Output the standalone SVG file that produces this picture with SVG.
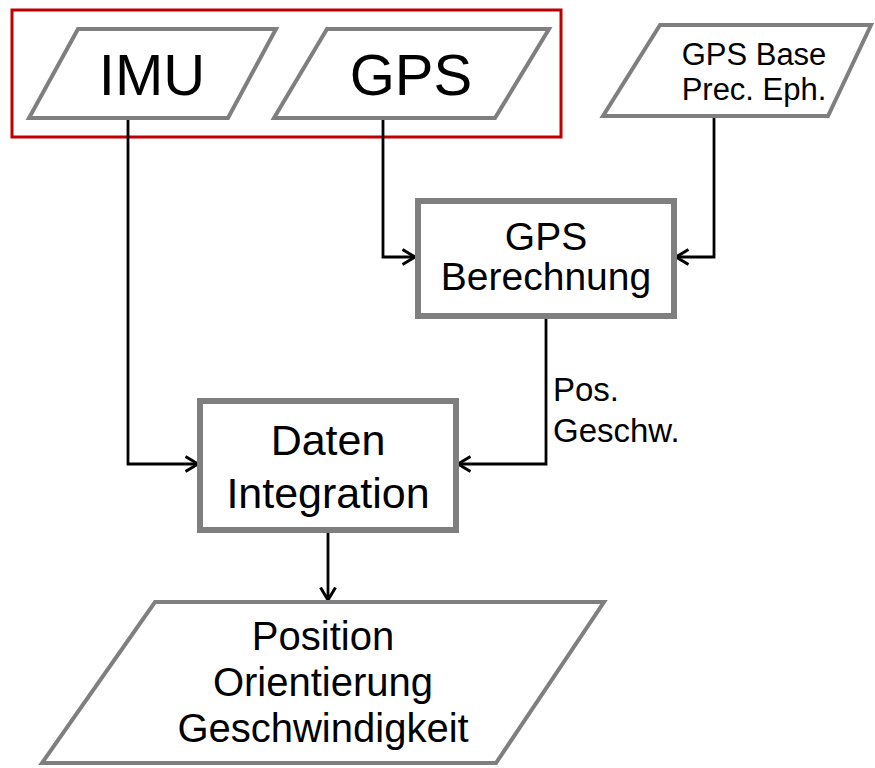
<svg xmlns="http://www.w3.org/2000/svg" width="875" height="768" viewBox="0 0 875 768">
  <style>
    .io { fill: #ffffff; stroke: #7f7f7f; stroke-width: 4; stroke-linejoin: miter; }
    .proc { fill: #ffffff; stroke: #7f7f7f; stroke-width: 6; }
    .wire { fill: none; stroke: #000000; stroke-width: 2.8; }
    text { font-family: "Liberation Sans", Arial, sans-serif; fill: #000000; text-anchor: middle; }
  </style>
  <defs>
    <marker id="arrow" markerWidth="16" markerHeight="18" refX="14" refY="9" orient="auto" markerUnits="userSpaceOnUse">
      <path d="M1.5,1.5 L14,9 L1.5,16.5" fill="none" stroke="#000000" stroke-width="3"/>
    </marker>
  </defs>
  <rect width="875" height="768" fill="#ffffff"/>

  <!-- sensor group frame -->
  <rect id="sensor-frame" x="12" y="10" width="549" height="127" fill="none" stroke="#c00000" stroke-width="3"/>

  <g id="connectors">
    <path class="wire" d="M128,118 V464 H198" marker-end="url(#arrow)"/>
    <path class="wire" d="M383,118 V257 H415" marker-end="url(#arrow)"/>
    <path class="wire" d="M714,117 V257 H676" marker-end="url(#arrow)"/>
    <path class="wire" d="M546,318 V464 H458" marker-end="url(#arrow)"/>
    <path class="wire" d="M328,532 V600" marker-end="url(#arrow)"/>
    <text x="553" y="401" font-size="33" style="text-anchor:start">Pos.</text>
    <text x="553" y="442" font-size="33" style="text-anchor:start">Geschw.</text>
  </g>

  <g id="imu">
    <polygon class="io" points="78,29 276,29 228,118 29,118"/>
    <text x="152" y="95" font-size="58">IMU</text>
  </g>

  <g id="gps">
    <polygon class="io" points="327,29 549,29 495,118 274,118"/>
    <text x="411" y="95" font-size="58">GPS</text>
  </g>

  <g id="gps-base">
    <polygon class="io" points="660,25 871,25 828,116 603,116"/>
    <text x="754" y="65" font-size="31">GPS Base</text>
    <text x="754" y="100" font-size="31">Prec. Eph.</text>
  </g>

  <g id="gps-berechnung">
    <rect class="proc" x="418" y="201" width="256" height="115"/>
    <text x="546" y="250" font-size="39">GPS</text>
    <text x="546" y="290" font-size="39">Berechnung</text>
  </g>

  <g id="daten-integration">
    <rect class="proc" x="200" y="401" width="256" height="129"/>
    <text x="328" y="455" font-size="43">Daten</text>
    <text x="328" y="508" font-size="43">Integration</text>
  </g>

  <g id="ausgabe">
    <polygon class="io" points="155,602 604,602 496,763 42,763"/>
    <text x="323" y="650" font-size="40">Position</text>
    <text x="323" y="696" font-size="40">Orientierung</text>
    <text x="323" y="742" font-size="40">Geschwindigkeit</text>
  </g>
</svg>
